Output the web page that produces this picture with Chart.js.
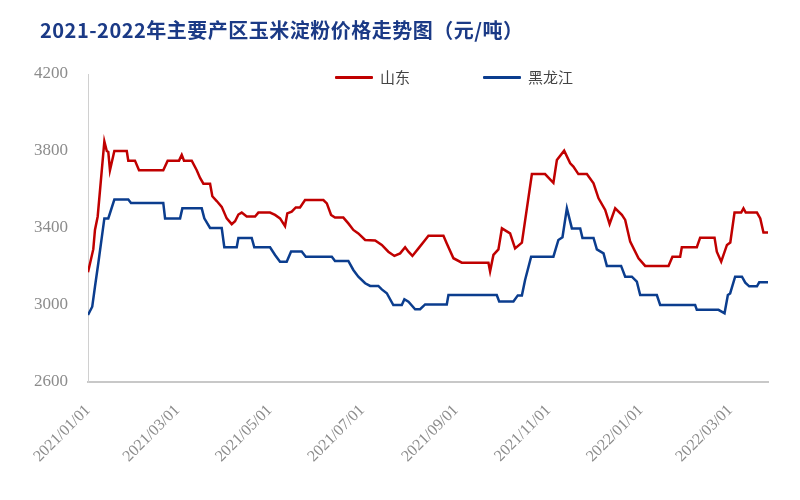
<!DOCTYPE html>
<html>
<head>
<meta charset="utf-8">
<script src="https://cdn.jsdelivr.net/npm/chart.js@4/dist/chart.umd.min.js"></script>
<style>
  html, body { margin: 0; padding: 0; background: #ffffff; }
  #wrap { position: relative; width: 800px; height: 500px; overflow: hidden; }
  #c { position: absolute; left: 0; top: 0; }
  #title { position: absolute; left: 40px; top: 15px; font-family: "Noto Sans CJK SC", sans-serif; font-weight: 700; font-size: 20px; color: #1b3a86; white-space: nowrap; letter-spacing: 0.5px; }
  #legend { position: absolute; left: 335px; top: 66px; font-family: "Noto Sans CJK SC", sans-serif; font-size: 15px; color: #444; white-space: nowrap; }
  .item { position: absolute; top: 0; height: 22px; line-height: 22px; }
  .sw { position: absolute; top: 10px; left: 0; width: 38px; height: 3px; border-radius: 1px; }
  .tx { position: absolute; left: 45px; top: 0; }
</style>
</head>
<body>
<div id="wrap">
  <canvas id="c" width="800" height="500"></canvas>
  <div id="title">2021-2022年主要产区玉米淀粉价格走势图（元/吨）</div>
  <div id="legend"></div>
</div>
<script>
// ---- data (days since 2021/01/01) ----
const seriesNames = ['山东', '黑龙江'];
const seriesColors = ['#c00000', '#0b3d8e'];

const tickDays = [0, 59, 120, 181, 243, 304, 365, 424];
const tickLabels = ['2021/01/01', '2021/03/01', '2021/05/01', '2021/07/01', '2021/09/01', '2021/11/01', '2022/01/01', '2022/03/01'];

const sdDays = [0, 3.5, 4.6, 6.4, 10.8, 12.4, 13.4, 14.5, 17.4, 25.6, 26.6, 31, 33.7, 49.7, 52.6, 60.1, 61.9, 63.4, 68.5, 71.8, 74, 76.2, 80.6, 82.1, 85, 88.3, 91.6, 94.9, 97.1, 99.3, 101.5, 104.8, 110.3, 112.5, 120.2, 123.5, 126.8, 130.1, 131.6, 134.5, 137.2, 140, 143.3, 155.4, 157.7, 160.5, 163.1, 168.6, 171.9, 175.2, 178.5, 183, 189.6, 194, 198.3, 202.3, 206.1, 209.4, 211.6, 214.2, 218.2, 222.6, 224.8, 234.7, 236.9, 241.3, 246.8, 264.4, 265.5, 267.7, 271, 273.3, 278.7, 282, 286.5, 293.1, 301.8, 307.3, 309.6, 314.4, 318.4, 320.5, 323.8, 329.4, 333.8, 337.1, 341.5, 344.4, 348.1, 352.5, 354.7, 358, 363.5, 367.9, 383.3, 385.9, 391, 392.1, 402, 404.2, 413.7, 415.2, 418.1, 421.9, 424.1, 426.9, 431.3, 432.8, 434.3, 441.7, 443.9, 446, 449];
const sdValues = [3170, 3290, 3390, 3460, 3850, 3800, 3795, 3700, 3800, 3800, 3750, 3750, 3700, 3700, 3750, 3750, 3780, 3750, 3750, 3700, 3660, 3630, 3630, 3565, 3540, 3510, 3450, 3420, 3435, 3470, 3480, 3460, 3460, 3480, 3480, 3468, 3450, 3410, 3476, 3485, 3507, 3507, 3545, 3545, 3528, 3468, 3454, 3454, 3424, 3390, 3372, 3338, 3335, 3312, 3277, 3255, 3268, 3300, 3277, 3255, 3294, 3338, 3360, 3360, 3320, 3243, 3220, 3220, 3175, 3260, 3289, 3398, 3372, 3294, 3324, 3680, 3680, 3635, 3753, 3802, 3736, 3719, 3680, 3680, 3632, 3554, 3494, 3421, 3502, 3468, 3442, 3329, 3243, 3203, 3203, 3251, 3251, 3300, 3300, 3350, 3350, 3277, 3225, 3312, 3325, 3480, 3480, 3502, 3480, 3480, 3450, 3376, 3376];

const hljDays = [0, 2.8, 4.6, 6.8, 10.8, 13.4, 17.4, 26.6, 28.4, 49.7, 50.9, 60.8, 62.3, 75.1, 76.8, 80.6, 88.3, 90, 98.2, 99.3, 108.1, 109.8, 120.2, 123.5, 126.8, 131.2, 134.1, 141.1, 143.8, 161, 163.1, 171.9, 175.2, 178.5, 183, 186.3, 191.7, 194, 197.3, 201.6, 207.2, 208.9, 211.6, 216, 219.3, 222.6, 236.9, 238, 269.9, 271.5, 280.9, 283.8, 286.5, 288.6, 292.6, 307.3, 310.6, 313.3, 316.2, 319.5, 325, 326.5, 333.8, 336, 340.4, 342.6, 352, 354.7, 359.1, 362.4, 364.6, 375.6, 377.8, 400.9, 402, 416.3, 420.3, 422.5, 424, 427.3, 431.8, 434, 436.6, 441.7, 443.2, 449];
const hljValues = [2948, 2991, 3095, 3217, 3450, 3450, 3548, 3548, 3530, 3530, 3450, 3450, 3502, 3502, 3450, 3400, 3400, 3300, 3300, 3348, 3348, 3300, 3300, 3260, 3225, 3225, 3278, 3278, 3251, 3251, 3229, 3229, 3182, 3147, 3113, 3099, 3099, 3081, 3061, 3000, 3000, 3030, 3017, 2978, 2978, 3003, 3003, 3052, 3052, 3018, 3018, 3050, 3050, 3130, 3251, 3251, 3338, 3352, 3502, 3398, 3398, 3348, 3348, 3289, 3268, 3203, 3203, 3147, 3147, 3121, 3052, 3052, 3000, 3000, 2975, 2975, 2957, 3052, 3060, 3147, 3147, 3116, 3097, 3097, 3118, 3118];

const yMin = 2600, yMax = 4200, yStep = 400, xMax = 449;

// ---- build ----
const toPoints = (xs, ys) => xs.map((d, i) => ({ x: d, y: ys[i] }));
const seriesData = [toPoints(sdDays, sdValues), toPoints(hljDays, hljValues)];

const legend = document.getElementById('legend');
const legendOffsets = [0, 148];
seriesNames.forEach((n, i) => {
  const it = document.createElement('div');
  it.className = 'item';
  it.style.left = legendOffsets[i] + 'px';
  it.innerHTML = '<span class="sw" style="background:' + seriesColors[i] + '"></span><span class="tx">' + n + '</span>';
  legend.appendChild(it);
});

new Chart(document.getElementById('c'), {
  type: 'line',
  data: {
    datasets: seriesNames.map((n, i) => ({
      label: n,
      data: seriesData[i],
      borderColor: seriesColors[i],
      backgroundColor: seriesColors[i],
      borderWidth: 2.5,
      pointRadius: 0,
      tension: 0,
      fill: false
    }))
  },
  options: {
    responsive: false,
    animation: false,
    layout: { padding: { top: 74, right: 32, left: 0, bottom: 0 } },
    plugins: { legend: { display: false }, title: { display: false }, tooltip: { enabled: false } },
    scales: {
      x: {
        type: 'linear',
        min: 0,
        max: xMax,
        grid: { display: false, drawTicks: false },
        border: { display: true, color: '#c8c8c8', width: 2 },
        afterBuildTicks: (s) => { s.ticks = tickDays.map(v => ({ value: v })); },
        afterFit: (s) => { s.height = 118; },
        ticks: {
          autoSkip: false,
          minRotation: 45,
          maxRotation: 45,
          padding: 19,
          color: '#8c8c8c',
          font: { family: '"Liberation Serif", serif', size: 16 },
          callback: (v) => { const k = tickDays.indexOf(v); return k >= 0 ? tickLabels[k] : ''; }
        }
      },
      y: {
        min: yMin,
        max: yMax,
        grid: { display: false, drawTicks: false },
        border: { display: true, color: '#d0d0d0', width: 1 },
        afterFit: (s) => { s.width = 88; },
        ticks: {
          stepSize: yStep,
          padding: 20,
          color: '#8c8c8c',
          font: { family: '"Liberation Serif", serif', size: 17 },
          callback: (v) => String(v)
        }
      }
    }
  }
});
</script>
</body>
</html>
